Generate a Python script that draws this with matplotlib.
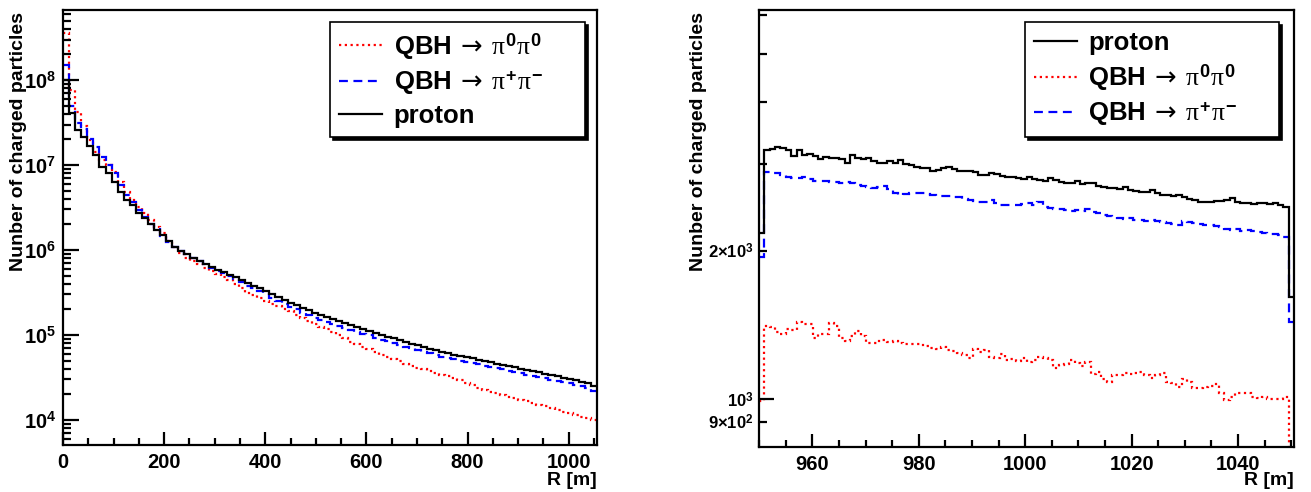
#!/usr/bin/python3

#Charged particle counts vs distance R
#---
import numpy as np
import matplotlib
matplotlib.use('Agg')
import matplotlib.pyplot as plt
from matplotlib.lines import Line2D
from matplotlib.ticker import MultipleLocator, LogLocator, FixedLocator, FuncFormatter, NullFormatter

#fonts (ROOT-like bold helvetica, symbol font for greek)
plt.rcParams['font.family'] = ['Liberation Sans', 'DejaVu Sans']
plt.rcParams['font.weight'] = 'bold'
plt.rcParams['mathtext.fontset'] = 'custom'
plt.rcParams['mathtext.rm'] = 'Liberation Sans:bold'
plt.rcParams['mathtext.bf'] = 'Liberation Sans:bold'
plt.rcParams['mathtext.it'] = 'Liberation Serif:regular'
plt.rcParams['mathtext.sf'] = 'DejaVu Sans:regular'

#Data: left panel, 12 m bins from 0 to 1056 m, log10 of counts
R_BIN_WIDTH = 12
R_MAX = 1056
pi0_log10 = [8.55, 7.88, 7.62, 7.46, 7.30, 7.15, 7.06, 7.00, 6.92, 6.80,
             6.68, 6.59, 6.51, 6.43, 6.35, 6.27, 6.20, 6.11, 6.03, 5.97,
             5.91, 5.87, 5.83, 5.79, 5.75, 5.72, 5.68, 5.65, 5.60, 5.55,
             5.50, 5.47, 5.44, 5.40, 5.37, 5.34, 5.31, 5.28, 5.24, 5.20,
             5.16, 5.13, 5.10, 5.07, 5.04, 5.00, 4.96, 4.92, 4.89, 4.86,
             4.83, 4.80, 4.77, 4.74, 4.715, 4.69, 4.665, 4.64, 4.615, 4.595,
             4.575, 4.555, 4.535, 4.515, 4.495, 4.47, 4.44, 4.41, 4.38, 4.355,
             4.335, 4.315, 4.295, 4.275, 4.26, 4.24, 4.22, 4.20, 4.18, 4.16,
             4.14, 4.12, 4.10, 4.08, 4.06, 4.04, 4.02, 4.00]
pipm_log10 = [8.18, 7.70, 7.50, 7.42, 7.31, 7.21, 7.09, 7.00, 6.91, 6.76,
              6.65, 6.56, 6.47, 6.39, 6.31, 6.25, 6.17, 6.10, 6.04, 5.99,
              5.95, 5.91, 5.87, 5.83, 5.785, 5.755, 5.725, 5.695, 5.665, 5.62,
              5.58, 5.55, 5.52, 5.49, 5.435, 5.405, 5.365, 5.335, 5.305, 5.265,
              5.235, 5.205, 5.18, 5.155, 5.135, 5.11, 5.085, 5.065, 5.04, 5.015,
              4.995, 4.97, 4.945, 4.925, 4.905, 4.885, 4.865, 4.845, 4.825, 4.805,
              4.785, 4.765, 4.745, 4.73, 4.715, 4.70, 4.685, 4.67, 4.655, 4.64,
              4.625, 4.61, 4.595, 4.58, 4.565, 4.55, 4.535, 4.52, 4.505, 4.49,
              4.475, 4.46, 4.445, 4.43, 4.415, 4.395, 4.375, 4.34]
proton_log10 = [8.00, 7.608, 7.412, 7.333, 7.227, 7.118, 6.98, 6.902, 6.804, 6.686,
                6.588, 6.529, 6.431, 6.373, 6.306, 6.235, 6.176, 6.11, 6.039, 5.99,
                5.95, 5.91, 5.87, 5.83, 5.80, 5.77, 5.74, 5.71, 5.68, 5.65,
                5.61, 5.58, 5.55, 5.52, 5.48, 5.45, 5.41, 5.38, 5.35, 5.32,
                5.29, 5.26, 5.235, 5.21, 5.19, 5.165, 5.14, 5.12, 5.095, 5.07,
                5.05, 5.025, 5.00, 4.98, 4.96, 4.94, 4.92, 4.90, 4.88, 4.86,
                4.84, 4.82, 4.80, 4.785, 4.77, 4.755, 4.74, 4.725, 4.71, 4.695,
                4.68, 4.665, 4.65, 4.635, 4.62, 4.605, 4.59, 4.575, 4.56, 4.545,
                4.53, 4.515, 4.50, 4.485, 4.47, 4.45, 4.43, 4.40]

#Data: right panel, 100 bins from 950 to 1050.5 m, counts
ZOOM_MIN = 950
ZOOM_MAX = 1050.5
proton_zoom = [2170, 3194, 3209, 3235, 3220, 3194, 3111, 3200, 3126, 3135,
               3102, 3063, 3087, 3078, 3078, 3068, 3002, 3121, 3078, 3063,
               3078, 3039, 3002, 3007, 3030, 3002, 3054, 2993, 2984, 2956,
               2938, 2938, 2892, 2915, 2938, 2956, 2924, 2901, 2892, 2901,
               2879, 2848, 2848, 2865, 2857, 2835, 2822, 2813, 2804, 2791,
               2813, 2791, 2782, 2769, 2804, 2778, 2748, 2740, 2735, 2769,
               2727, 2744, 2735, 2706, 2685, 2677, 2673, 2665, 2693, 2652,
               2636, 2632, 2624, 2652, 2612, 2596, 2592, 2584, 2596, 2564,
               2540, 2532, 2512, 2504, 2508, 2516, 2523, 2535, 2556, 2512,
               2500, 2492, 2485, 2500, 2492, 2485, 2492, 2473, 2454, 1607]
pi0_zoom = [990, 1404, 1400, 1368, 1353, 1389, 1382, 1433, 1422, 1418,
            1332, 1358, 1358, 1426, 1404, 1332, 1310, 1341, 1374, 1342,
            1300, 1302, 1310, 1316, 1308, 1310, 1300, 1296, 1291, 1291,
            1286, 1280, 1272, 1264, 1276, 1260, 1250, 1240, 1227, 1214,
            1266, 1246, 1256, 1218, 1214, 1233, 1199, 1208, 1195, 1214,
            1190, 1203, 1218, 1214, 1199, 1157, 1171, 1177, 1199, 1184,
            1166, 1190, 1127, 1136, 1101, 1081, 1118, 1118, 1130, 1127,
            1130, 1136, 1118, 1106, 1121, 1130, 1084, 1079, 1059, 1101,
            1084, 1051, 1054, 1059, 1062, 1071, 1030, 998, 1011, 1027,
            1030, 1027, 1008, 1006, 1011, 1003, 1003, 1003, 1008, 0]
pipm_zoom = [1945, 2880, 2875, 2866, 2848, 2813, 2800, 2804, 2822, 2787,
             2769, 2766, 2769, 2757, 2748, 2744, 2748, 2735, 2719, 2702,
             2685, 2677, 2685, 2706, 2665, 2612, 2596, 2604, 2612, 2612,
             2612, 2604, 2596, 2584, 2584, 2580, 2572, 2564, 2543, 2532,
             2523, 2512, 2504, 2532, 2492, 2477, 2470, 2477, 2477, 2485,
             2492, 2477, 2504, 2454, 2439, 2428, 2424, 2417, 2409, 2417,
             2402, 2428, 2391, 2379, 2365, 2354, 2343, 2328, 2317, 2325,
             2310, 2303, 2300, 2307, 2300, 2285, 2275, 2264, 2257, 2300,
             2285, 2271, 2264, 2257, 2250, 2243, 2229, 2209, 2202, 2212,
             2195, 2202, 2188, 2178, 2171, 2165, 2158, 2151, 2135, 1430]

LABEL_PI0 = r'QBH$\;\mathsf{\rightarrow}\;\pi^{0}\pi^{0}$'
LABEL_PIPM = r'QBH$\;\mathsf{\rightarrow}\;\pi^{+}\pi^{-}$'
LABEL_PROTON = 'proton'
YLABEL = 'Nunber of charged particles'
XLABEL = 'R [m]'

#line styles
STYLE_PI0 = dict(color = 'red', linestyle = (0, (1, 1.6)), linewidth = 1.6)
STYLE_PIPM = dict(color = 'blue', linestyle = (0, (4, 2.5)), linewidth = 1.6)
STYLE_PROTON = dict(color = 'black', linestyle = '-', linewidth = 1.6)


#Functions
#---
def style_frame(ax):
    """
    ROOT-like frame: thick box, ticks inside on bottom and left only.
    """
    for spine in ax.spines.values():
        spine.set_linewidth(1.6)
    ax.tick_params(which = 'both', direction = 'in', top = False, right = False, width = 1.6)

def add_legend(ax, handles, labels, anchor):
    leg = ax.legend(handles, labels, loc = 'upper left', bbox_to_anchor = anchor, mode = 'expand',
                    prop = {'size': 18.5, 'weight': 'bold'}, handlelength = 1.67, handletextpad = 0.45,
                    borderpad = 0.35, labelspacing = 0.28, borderaxespad = 0, fancybox = False,
                    shadow = {'color': 'black', 'alpha': 1}, framealpha = 1, edgecolor = 'black')
    leg.get_frame().set_linewidth(1.2)
    return leg


#Figure
#---
fig = plt.figure(figsize = (13.11, 4.92), dpi = 100)
ax1 = fig.add_axes([0.0481, 0.0955, 0.4073, 0.884])
ax2 = fig.add_axes([0.5790, 0.0915, 0.4080, 0.888])

#left panel: full range
r_edges = np.arange(0, R_MAX + 1, R_BIN_WIDTH)
ax1.stairs(10 ** np.array(pi0_log10), r_edges, baseline = None, **STYLE_PI0)
ax1.stairs(10 ** np.array(pipm_log10), r_edges, baseline = None, **STYLE_PIPM)
ax1.stairs(10 ** np.array(proton_log10), r_edges, baseline = None, **STYLE_PROTON)
ax1.set_yscale('log')
ax1.set_xlim(0, R_MAX)
ax1.set_ylim(5080, 6.66e8)
style_frame(ax1)
ax1.xaxis.set_major_locator(MultipleLocator(200))
ax1.xaxis.set_minor_locator(MultipleLocator(50))
ax1.yaxis.set_major_locator(LogLocator(base = 10, numticks = 15))
ax1.yaxis.set_minor_locator(LogLocator(base = 10, subs = np.arange(2, 10), numticks = 15))
ax1.yaxis.set_major_formatter(FuncFormatter(lambda v, p: r'$10^{%d}$' % round(np.log10(v))))
ax1.yaxis.set_minor_formatter(NullFormatter())
ax1.tick_params(axis = 'x', which = 'major', length = 9.5, labelsize = 14.5, pad = 6)
ax1.tick_params(axis = 'x', which = 'minor', length = 5)
ax1.tick_params(axis = 'y', which = 'major', length = 11.5, labelsize = 14.5, pad = 5)
ax1.tick_params(axis = 'y', which = 'minor', length = 6)
ax1.set_ylabel(YLABEL, fontsize = 14, fontweight = 'bold', loc = 'top')
ax1.yaxis.set_label_coords(-0.067, 0.995)
ax1.set_xlabel(XLABEL, fontsize = 14, fontweight = 'bold', loc = 'right')
ax1.xaxis.set_label_coords(1.0, -0.062)

h_pi0 = Line2D([], [], **STYLE_PI0)
h_pipm = Line2D([], [], **STYLE_PIPM)
h_proton = Line2D([], [], **STYLE_PROTON)
add_legend(ax1, [h_pi0, h_pipm, h_proton], [LABEL_PI0, LABEL_PIPM, LABEL_PROTON],
           (0.5, 0.71, 0.4775, 0.2624))

#right panel: zoom on the far end
z_edges = np.linspace(ZOOM_MIN, ZOOM_MAX, len(proton_zoom) + 1)
ax2.stairs(pi0_zoom, z_edges, baseline = None, **STYLE_PI0)
ax2.stairs(pipm_zoom, z_edges, baseline = None, **STYLE_PIPM)
ax2.stairs(proton_zoom, z_edges, baseline = None, **STYLE_PROTON)
ax2.set_yscale('log')
ax2.set_xlim(ZOOM_MIN, ZOOM_MAX)
ax2.set_ylim(800, 6140)
style_frame(ax2)
ax2.xaxis.set_major_locator(MultipleLocator(20))
ax2.xaxis.set_minor_locator(MultipleLocator(5))
ax2.yaxis.set_major_locator(FixedLocator([1000]))
ax2.yaxis.set_minor_locator(FixedLocator([900, 2000, 3000, 4000, 5000, 6000]))
minor_labels = {900: '9\u00d7$10^{2}$', 2000: '2\u00d7$10^{3}$'}
ax2.yaxis.set_major_formatter(FuncFormatter(lambda v, p: '$10^{3}$'))
ax2.yaxis.set_minor_formatter(FuncFormatter(lambda v, p: minor_labels.get(int(round(v)), '')))
ax2.tick_params(axis = 'x', which = 'major', length = 9.5, labelsize = 14.5, pad = 6)
ax2.tick_params(axis = 'x', which = 'minor', length = 5)
ax2.tick_params(axis = 'y', which = 'major', length = 11, labelsize = 12, pad = 4)
ax2.tick_params(axis = 'y', which = 'minor', length = 6, labelsize = 12, pad = 4)
ax2.set_ylabel(YLABEL, fontsize = 14, fontweight = 'bold', loc = 'top')
ax2.yaxis.set_label_coords(-0.097, 0.995)
ax2.set_xlabel(XLABEL, fontsize = 14, fontweight = 'bold', loc = 'right')
ax2.xaxis.set_label_coords(1.0, -0.057)

add_legend(ax2, [h_proton, h_pi0, h_pipm], [LABEL_PROTON, LABEL_PI0, LABEL_PIPM],
           (0.497, 0.7117, 0.475, 0.2608))

fig.savefig('out.png', dpi = 100)
